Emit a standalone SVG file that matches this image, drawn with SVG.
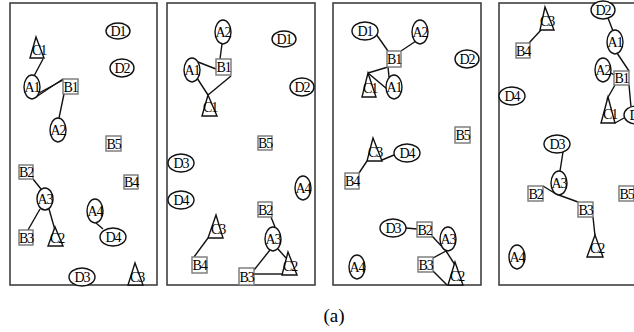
<svg xmlns="http://www.w3.org/2000/svg" width="634" height="332" viewBox="0 0 634 332">
<style>
.panel{fill:#fff;stroke:#333;stroke-width:1.5}
.e{fill:#fff;stroke:#111;stroke-width:1.4}
.b{fill:#fff;stroke:#777;stroke-width:1.4}
.t{fill:#fff;stroke:#111;stroke-width:1.4}
.l{stroke:#111;stroke-width:1.4;fill:none}
text{font-family:"Liberation Serif","Times New Roman",serif;font-size:14px;fill:#000;text-anchor:middle;letter-spacing:-1.1px}
.cap{font-size:19px;letter-spacing:0}
</style>
<rect width="634" height="332" fill="#fff"/>
<g id="panels">
<rect class="panel" x="10" y="3" width="147" height="282"/>
<rect class="panel" x="167" y="3" width="148" height="282"/>
<rect class="panel" x="333" y="3" width="148" height="282"/>
<rect class="panel" x="499" y="3" width="145" height="282"/>
</g>
<g id="connectors">
<line class="l" x1="43" y1="59" x2="34" y2="76"/>
<line class="l" x1="36" y1="97" x2="63" y2="79"/>
<line class="l" x1="39" y1="93" x2="63" y2="80"/>
<line class="l" x1="64" y1="94" x2="59" y2="118"/>
<line class="l" x1="33" y1="179" x2="41" y2="189"/>
<line class="l" x1="40" y1="209" x2="28" y2="230"/>
<line class="l" x1="49" y1="209" x2="55" y2="230"/>
<line class="l" x1="96" y1="223" x2="103" y2="229"/>
<line class="l" x1="222" y1="44" x2="220" y2="59"/>
<line class="l" x1="198" y1="62" x2="216" y2="69"/>
<line class="l" x1="197" y1="78" x2="208" y2="95"/>
<line class="l" x1="231" y1="76" x2="208" y2="95"/>
<line class="l" x1="271" y1="217" x2="275" y2="227"/>
<line class="l" x1="270" y1="250" x2="254" y2="270"/>
<line class="l" x1="278" y1="249" x2="286" y2="258"/>
<line class="l" x1="254" y1="274" x2="282" y2="274"/>
<line class="l" x1="208" y1="238" x2="194" y2="257"/>
<line class="l" x1="376" y1="34" x2="388" y2="51"/>
<line class="l" x1="416" y1="41" x2="401" y2="51"/>
<line class="l" x1="388" y1="67" x2="368" y2="73"/>
<line class="l" x1="388" y1="67" x2="389" y2="77"/>
<line class="l" x1="368" y1="73" x2="387" y2="89"/>
<line class="l" x1="382" y1="160" x2="394" y2="155"/>
<line class="l" x1="367" y1="161" x2="359" y2="173"/>
<line class="l" x1="406" y1="228" x2="417" y2="229"/>
<line class="l" x1="432" y1="236" x2="446" y2="251"/>
<line class="l" x1="446" y1="251" x2="433" y2="258"/>
<line class="l" x1="446" y1="251" x2="457" y2="268"/>
<line class="l" x1="433" y1="271" x2="447" y2="285"/>
<line class="l" x1="541" y1="30" x2="529" y2="43"/>
<line class="l" x1="608" y1="18" x2="613" y2="31"/>
<line class="l" x1="617" y1="53" x2="629" y2="71"/>
<line class="l" x1="611" y1="73" x2="614" y2="75"/>
<line class="l" x1="629" y1="85" x2="631" y2="107"/>
<line class="l" x1="615" y1="85" x2="607" y2="99"/>
<line class="l" x1="615" y1="123" x2="624" y2="118"/>
<line class="l" x1="563" y1="152" x2="560" y2="171"/>
<line class="l" x1="543" y1="186" x2="556" y2="194"/>
<line class="l" x1="556" y1="194" x2="578" y2="202"/>
<line class="l" x1="593" y1="217" x2="595" y2="236"/>
</g>
<!-- Panel 1 -->
<g id="p1-D1"><ellipse class="e" cx="118" cy="31" rx="12" ry="8"/><text x="118" y="36">D1</text></g>
<g id="p1-D2"><ellipse class="e" cx="122" cy="68" rx="12" ry="9"/><text x="122" y="73">D2</text></g>
<g id="p1-C1"><polygon class="t" points="36,37 30,58 44,58"/><text x="39" y="55">C1</text></g>
<g id="p1-A1"><ellipse class="e" cx="32" cy="87" rx="8" ry="12"/><text x="32" y="92">A1</text></g>
<g id="p1-B1"><rect class="b" x="63" y="79" width="15" height="15"/><text x="70.5" y="91.5">B1</text></g>
<g id="p1-A2"><ellipse class="e" cx="58" cy="130" rx="8" ry="12"/><text x="58" y="135">A2</text></g>
<g id="p1-B5"><rect class="b" x="106" y="136" width="15" height="15"/><text x="113.5" y="148.5">B5</text></g>
<g id="p1-B2"><rect class="b" x="19" y="165" width="14" height="14"/><text x="26" y="177">B2</text></g>
<g id="p1-B4"><rect class="b" x="124" y="175" width="14" height="14"/><text x="131" y="187">B4</text></g>
<g id="p1-A3"><ellipse class="e" cx="45" cy="199" rx="8" ry="11"/><text x="45" y="204">A3</text></g>
<g id="p1-A4"><ellipse class="e" cx="95" cy="211" rx="8" ry="12"/><text x="95" y="216">A4</text></g>
<g id="p1-B3"><rect class="b" x="19" y="230" width="14" height="15"/><text x="26" y="242.5">B3</text></g>
<g id="p1-C2"><polygon class="t" points="55,227 48,246 63,246"/><text x="57" y="243">C2</text></g>
<g id="p1-D4"><ellipse class="e" cx="113" cy="237" rx="13" ry="9"/><text x="113" y="242">D4</text></g>
<g id="p1-D3"><ellipse class="e" cx="82" cy="277" rx="13" ry="9"/><text x="82" y="282">D3</text></g>
<g id="p1-C3"><polygon class="t" points="135,263 128,285 143,285"/><text x="137" y="282">C3</text></g>
<!-- Panel 2 -->
<g id="p2-A2"><ellipse class="e" cx="223" cy="32" rx="8" ry="12"/><text x="223" y="37">A2</text></g>
<g id="p2-D1"><ellipse class="e" cx="284" cy="39" rx="12" ry="8"/><text x="284" y="44">D1</text></g>
<g id="p2-A1"><ellipse class="e" cx="192" cy="70" rx="8" ry="12"/><text x="192" y="75">A1</text></g>
<g id="p2-B1"><rect class="b" x="216" y="59" width="15" height="16"/><text x="223.5" y="72">B1</text></g>
<g id="p2-D2"><ellipse class="e" cx="302" cy="87" rx="12" ry="9"/><text x="302" y="92">D2</text></g>
<g id="p2-C1"><polygon class="t" points="208,95 202,116 217,116"/><text x="210" y="112">C1</text></g>
<g id="p2-B5"><rect class="b" x="258" y="136" width="14" height="14"/><text x="265" y="148">B5</text></g>
<g id="p2-D3"><ellipse class="e" cx="181" cy="163" rx="13" ry="9"/><text x="181" y="168">D3</text></g>
<g id="p2-D4"><ellipse class="e" cx="181" cy="200" rx="13" ry="9"/><text x="181" y="205">D4</text></g>
<g id="p2-A4"><ellipse class="e" cx="303" cy="188" rx="8" ry="12"/><text x="303" y="193">A4</text></g>
<g id="p2-B2"><rect class="b" x="258" y="202" width="14" height="15"/><text x="265" y="214.5">B2</text></g>
<g id="p2-C3"><polygon class="t" points="216,215 208,238 223,238"/><text x="218" y="234">C3</text></g>
<g id="p2-A3"><ellipse class="e" cx="273" cy="239" rx="8" ry="12"/><text x="273" y="244">A3</text></g>
<g id="p2-B4"><rect class="b" x="192" y="257" width="15" height="16"/><text x="199.5" y="270">B4</text></g>
<g id="p2-C2"><polygon class="t" points="288,252 282,275 297,275"/><text x="290" y="271">C2</text></g>
<g id="p2-B3"><rect class="b" x="239" y="268" width="15" height="17"/><text x="246.5" y="282">B3</text></g>
<!-- Panel 3 -->
<g id="p3-D1"><ellipse class="e" cx="365" cy="31" rx="13" ry="9"/><text x="365" y="36">D1</text></g>
<g id="p3-A2"><ellipse class="e" cx="420" cy="32" rx="8" ry="12"/><text x="420" y="37">A2</text></g>
<g id="p3-D2"><ellipse class="e" cx="467" cy="59" rx="12" ry="9"/><text x="467" y="64">D2</text></g>
<g id="p3-B1"><rect class="b" x="387" y="51" width="14" height="16"/><text x="394" y="64">B1</text></g>
<g id="p3-C1"><polygon class="t" points="368,73 362,97 376,97"/><text x="370" y="93">C1</text></g>
<g id="p3-A1"><ellipse class="e" cx="394" cy="87" rx="8" ry="12"/><text x="394" y="92">A1</text></g>
<g id="p3-B5"><rect class="b" x="455" y="127" width="15" height="16"/><text x="462.5" y="140">B5</text></g>
<g id="p3-C3"><polygon class="t" points="373,138 367,161 382,161"/><text x="375" y="157">C3</text></g>
<g id="p3-D4"><ellipse class="e" cx="407" cy="153" rx="13" ry="9"/><text x="407" y="158">D4</text></g>
<g id="p3-B4"><rect class="b" x="345" y="173" width="14" height="16"/><text x="352" y="186">B4</text></g>
<g id="p3-D3"><ellipse class="e" cx="393" cy="228" rx="13" ry="9"/><text x="393" y="233">D3</text></g>
<g id="p3-B2"><rect class="b" x="417" y="222" width="15" height="15"/><text x="424.5" y="234.5">B2</text></g>
<g id="p3-A3"><ellipse class="e" cx="448" cy="239" rx="8" ry="12"/><text x="448" y="244">A3</text></g>
<g id="p3-B3"><rect class="b" x="418" y="257" width="15" height="15"/><text x="425.5" y="269.5">B3</text></g>
<g id="p3-C2"><polygon class="t" points="455,262 448,285 463,285"/><text x="457" y="281">C2</text></g>
<g id="p3-A4"><ellipse class="e" cx="357" cy="267" rx="8" ry="12"/><text x="357" y="272">A4</text></g>
<!-- Panel 4 -->
<g id="p4-C3"><polygon class="t" points="545,7 540,30 554,30"/><text x="547" y="26">C3</text></g>
<g id="p4-B4"><rect class="b" x="516" y="43" width="14" height="15"/><text x="523" y="55.5">B4</text></g>
<g id="p4-D2"><ellipse class="e" cx="603" cy="10" rx="12" ry="9"/><text x="603" y="15">D2</text></g>
<g id="p4-A1"><ellipse class="e" cx="615" cy="42" rx="8" ry="12"/><text x="615" y="47">A1</text></g>
<g id="p4-A2"><ellipse class="e" cx="603" cy="70" rx="8" ry="12"/><text x="603" y="75">A2</text></g>
<g id="p4-B1"><rect class="b" x="614" y="71" width="15" height="14"/><text x="621.5" y="83">B1</text></g>
<g id="p4-C1"><polygon class="t" points="608,97 601,123 615,123"/><text x="610" y="119">C1</text></g>
<g id="p4-D1"><ellipse class="e" cx="636" cy="115" rx="12" ry="9"/><text x="637" y="120">D1</text></g>
<g id="p4-D4"><ellipse class="e" cx="512" cy="96" rx="13" ry="9"/><text x="512" y="101">D4</text></g>
<g id="p4-D3"><ellipse class="e" cx="557" cy="144" rx="13" ry="9"/><text x="557" y="149">D3</text></g>
<g id="p4-A3"><ellipse class="e" cx="559" cy="183" rx="8" ry="12"/><text x="559" y="188">A3</text></g>
<g id="p4-B2"><rect class="b" x="528" y="186" width="15" height="15"/><text x="535.5" y="198.5">B2</text></g>
<g id="p4-B5"><rect class="b" x="619" y="186" width="15" height="15"/><text x="626.5" y="198.5">B5</text></g>
<g id="p4-B3"><rect class="b" x="578" y="202" width="15" height="15"/><text x="585.5" y="214.5">B3</text></g>
<g id="p4-C2"><polygon class="t" points="595,235 587,257 603,257"/><text x="597" y="253">C2</text></g>
<g id="p4-A4"><ellipse class="e" cx="517" cy="257" rx="8" ry="12"/><text x="517" y="262">A4</text></g>
<text class="cap" x="334" y="322">(a)</text>
</svg>
